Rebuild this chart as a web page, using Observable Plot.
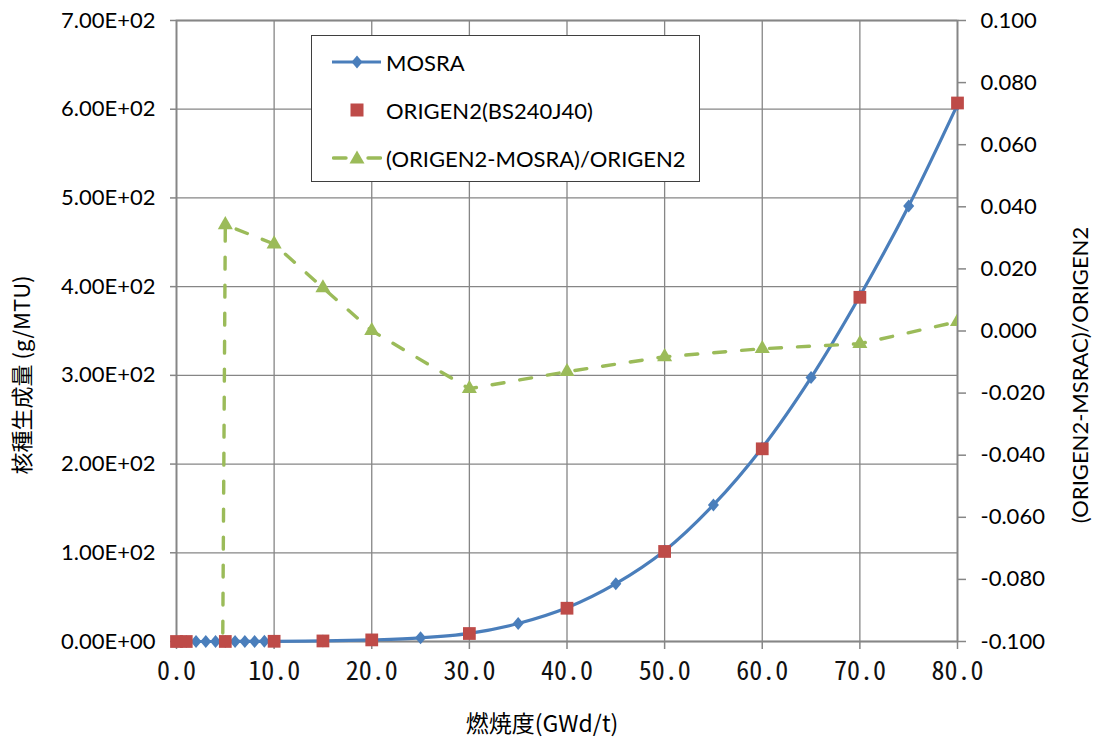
<!DOCTYPE html>
<html>
<head>
<meta charset="utf-8">
<script src="https://cdn.jsdelivr.net/npm/d3@7"></script>
<script src="https://cdn.jsdelivr.net/npm/@observablehq/plot@0.6"></script>
<style>
  body { margin: 0; background: #fff; }
  #wrap { position: relative; width: 1097px; height: 747px; }
  #legend {
    position: absolute; left: 311px; top: 35px; width: 389px; height: 147px;
    box-sizing: border-box; border: 1.5px solid #3f3f3f; background: #fff;
    font-family: Lato, "Open Sans", sans-serif; font-size: 22px; color: #000;
  }
  #legend .row { position: absolute; left: 20px; height: 30px; display: flex; align-items: center; }
  #legend svg { width: 50px; height: 30px; margin-right: 4px; flex: none; }
</style>
</head>
<body>
<div id="wrap">
  <div id="chart"></div>
  <div id="legend"></div>
</div>
<script>
// Burnup (GWd/t) and nuclide production (g/MTU)
const mosraBurnup = [0, 1, 2, 3, 4, 5, 6, 7, 8, 9, 10, 15, 20, 25, 30, 35, 40, 45, 50, 55, 60, 65, 70, 75, 80];
const mosraAmount = [0, 0.0003, 0.003, 0.011, 0.022, 0.037, 0.06, 0.09, 0.13, 0.18, 0.233, 0.61, 1.8, 4.1, 9.17, 20.3, 38.0, 65.2, 102.3, 154, 218.5, 297.5, 389.5, 491, 605.2];

const origenBurnup = [0, 1, 5, 10, 15, 20, 30, 40, 50, 60, 70, 80];
const origenAmount = [0, 0.0001, 0.038, 0.24, 0.62, 1.8, 9.0, 37.5, 101.5, 217.2, 388, 607];

// Relative difference (ORIGEN2-MOSRA)/ORIGEN2, plotted against the right axis
const ratioBurnup = [1, 5, 10, 15, 20, 30, 40, 50, 60, 70, 80];
const ratioValue = [-2.0, 0.0342, 0.028, 0.0139, 0.0001, -0.0186, -0.0131, -0.0083, -0.0057, -0.0041, 0.003];

// Axis ticks
const xTicks = [0, 10, 20, 30, 40, 50, 60, 70, 80];
const yTicks = [0, 100, 200, 300, 400, 500, 600, 700];
const rightTicks = [-0.1, -0.08, -0.06, -0.04, -0.02, 0, 0.02, 0.04, 0.06, 0.08, 0.1];

const seriesNames = ["MOSRA", "ORIGEN2(BS240J40)", "(ORIGEN2-MOSRA)/ORIGEN2"];
const xTitle = "燃焼度(GWd/t)";
const yTitle = "核種生成量 (g/MTU)";
const y2Title = "(ORIGEN2-MSRAC)/ORIGEN2";

const BLUE = "#4a7ebb", RED = "#be4b48", GREEN = "#9bbb59", GRID = "#868686";
const latin = "Lato, 'Open Sans', sans-serif";
const cjk = "'Noto Sans CJK JP', 'Noto Sans', sans-serif";
const mono = "'Noto Sans Mono CJK JP', 'DejaVu Sans Mono', monospace";

// Right axis range [-0.1, 0.1] laid onto the left axis range [0, 700]
const Y_MAX = 700, R_MIN = -0.1, R_MAX = 0.1;
const toLeft = (r) => (r - R_MIN) / (R_MAX - R_MIN) * Y_MAX;
const fromLeft = (v) => { const r = Math.round((v / Y_MAX * (R_MAX - R_MIN) + R_MIN) * 1000) / 1000; return r === 0 ? 0 : r; };

const sciFormat = (d) => {
  const [m, e] = d.toExponential(2).split("e");
  return `${m}E${e[0]}${e.slice(1).padStart(2, "0")}`;
};

const mosra = mosraBurnup.map((x, i) => ({x, y: mosraAmount[i]}));
const origen = origenBurnup.map((x, i) => ({x, y: origenAmount[i]}));
const ratio = ratioBurnup.map((x, i) => ({x, r: ratioValue[i]}));

// Diamond marker (a bit taller than wide)
const diamond = {
  draw(ctx, size) {
    const h = Math.sqrt(size / Math.PI), w = h * 0.85;
    ctx.moveTo(0, -h); ctx.lineTo(w, 0); ctx.lineTo(0, h); ctx.lineTo(-w, 0); ctx.closePath();
  }
};

const chart = Plot.plot({
  width: 1097,
  height: 747,
  marginLeft: 176,
  marginRight: 140,
  marginTop: 20,
  marginBottom: 106,
  style: {fontFamily: latin, fontSize: "22px", color: "#000", background: "#fff", overflow: "visible"},
  x: {domain: [0, 80]},
  y: {domain: [0, Y_MAX]},
  marks: [
    Plot.gridX(xTicks, {stroke: GRID, strokeOpacity: 1, strokeWidth: 1.3}),
    Plot.gridY(yTicks, {stroke: GRID, strokeOpacity: 1, strokeWidth: 1.3}),
    Plot.frame({stroke: GRID, strokeWidth: 1.8}),
    Plot.axisX(xTicks, {anchor: "bottom", tickSize: 8, tickPadding: 12, stroke: GRID, strokeWidth: 1.5,
      tickFormat: (d) => d.toFixed(1), fontFamily: mono, fontSize: 26, fill: "#111", label: null}),
    Plot.axisY(yTicks, {anchor: "left", tickSize: 6, tickPadding: 15, stroke: GRID, strokeWidth: 1.5,
      tickFormat: sciFormat, label: null}),
    Plot.axisY(rightTicks.map(toLeft), {anchor: "right", tickSize: 8, tickPadding: 15, stroke: GRID, strokeWidth: 1.5,
      tickFormat: (d) => fromLeft(d).toFixed(3), label: null}),
    // Axis titles
    Plot.text([xTitle], {frameAnchor: "bottom", textAnchor: "middle", dy: 90, dx: -25, fontFamily: cjk, fontSize: 23, fill: "#000"}),
    Plot.text([yTitle], {frameAnchor: "left", textAnchor: "middle", dx: -154, dy: 44, rotate: -90, fontFamily: cjk, fontSize: 22, fill: "#000"}),
    Plot.text([y2Title], {frameAnchor: "right", textAnchor: "middle", dx: 123, dy: 44, rotate: -90, fontFamily: latin, fontSize: 22, fill: "#000"}),
    // MOSRA
    Plot.line(mosra, {x: "x", y: "y", stroke: BLUE, strokeWidth: 3.2, curve: "catmull-rom"}),
    Plot.dot(mosra, {x: "x", y: "y", symbol: diamond, r: 6.5, fill: BLUE, stroke: "none"}),
    // ORIGEN2
    Plot.dot(origen, {x: "x", y: "y", symbol: "square", r: 7.2, fill: RED, stroke: "none"}),
    // Relative difference (right axis)
    Plot.line(ratio, {x: "x", y: (d) => toLeft(d.r), stroke: GREEN, strokeWidth: 3.4,
      strokeDasharray: "12,16", strokeLinecap: "round", clip: true}),
    Plot.dot(ratio, {x: "x", y: (d) => toLeft(d.r), symbol: "triangle", r: 5.6, fill: GREEN, stroke: "none", clip: true})
  ]
});
document.getElementById("chart").append(chart);

// Legend
const swatches = [
  `<line x1="0" y1="15" x2="49" y2="15" stroke="${BLUE}" stroke-width="3.2"/>
   <path d="M25,8.5 L30.5,15 L25,21.5 L19.5,15Z" fill="${BLUE}"/>`,
  `<rect x="18.5" y="8.5" width="13" height="13" fill="${RED}"/>`,
  `<line x1="1.5" y1="15" x2="14" y2="15" stroke="${GREEN}" stroke-width="3.4" stroke-linecap="round"/>
   <line x1="36" y1="15" x2="48.5" y2="15" stroke="${GREEN}" stroke-width="3.4" stroke-linecap="round"/>
   <path d="M25,7.5 L32.5,20.5 L17.5,20.5Z" fill="${GREEN}"/>`
];
const rowTops = [11, 59, 107];
const legend = document.getElementById("legend");
seriesNames.forEach((name, i) => {
  const row = document.createElement("div");
  row.className = "row";
  row.style.top = rowTops[i] + "px";
  row.innerHTML = `<svg viewBox="0 0 50 30">${swatches[i]}</svg><span>${name}</span>`;
  legend.append(row);
});
</script>
</body>
</html>
